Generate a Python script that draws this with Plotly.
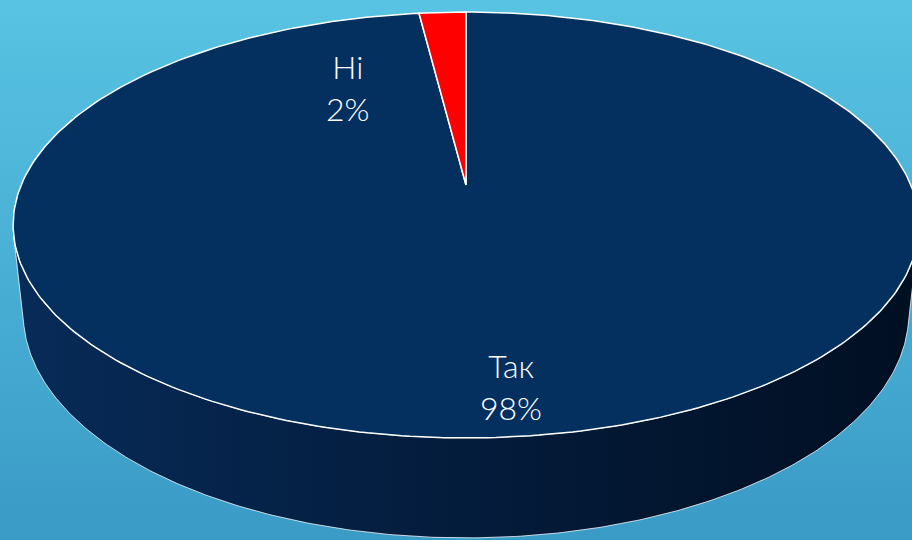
import numpy as np
import plotly.graph_objects as go

# ---- data ----
labels = ["Так", "Ні"]
values = [98, 2]
slice_colors = ["#03305f", "#ff0000"]

# ---- 3D view parameters (style) ----
ELEV = np.radians(27.5)
C, S = np.cos(ELEV), np.sin(ELEV)
DIST = 5.325 * C
DEPTH = 0.2256
K = 2101.0           # pixels per unit
CX_PX, CY_PX = 466, 185
W, H = 912, 540


def proj(phi, z):
    """phi: clockwise angle from 12 o'clock (radians), z: height (0 top face)."""
    X = np.sin(phi)
    Y = -np.cos(phi)
    depth = DIST - Y * C - z * S
    return X / depth, (z * C - Y * S) / depth


def center(z=0.0):
    depth = DIST - z * S
    return 0.0, z * C / depth


fig = go.Figure()

# background gradient (covers the axis range)
xr = [-CX_PX / K, (W - CX_PX) / K]
yr = [-(H - CY_PX) / K, CY_PX / K]
fig.add_trace(go.Scatter(
    x=[xr[0], xr[1], xr[1], xr[0], xr[0]],
    y=[yr[0], yr[0], yr[1], yr[1], yr[0]],
    mode="lines", line=dict(width=0), fill="toself",
    fillgradient=dict(type="vertical",
                      colorscale=[[0, "#3a9bc6"], [1, "#58c3e3"]]),
    hoverinfo="skip", showlegend=False,
))

# side wall (front, visible part)
phi_a = np.arccos(-1.0 / (DIST * C))
ph = np.linspace(phi_a, 2 * np.pi - phi_a, 300)
tx, ty = proj(ph, 0.0)
bx, by = proj(ph[::-1], -DEPTH)
sx = np.concatenate([tx, bx, tx[:1]])
sy = np.concatenate([ty, by, ty[:1]])
fig.add_trace(go.Scatter(
    x=sx, y=sy, mode="lines",
    line=dict(color="rgba(255,255,255,0.75)", width=1),
    fill="toself",
    fillgradient=dict(type="horizontal",
                      colorscale=[[0, "#072b58"], [0.45, "#041d3e"], [1, "#010f22"]]),
    hoverinfo="skip", showlegend=False,
))

# top face slices: first slice clockwise from 12 o'clock
total = float(sum(values))
start = 0.0
mids = []
for lab, v, col in zip(labels, values, slice_colors):
    span = 2 * np.pi * v / total
    ph = np.linspace(start, start + span, max(int(400 * v / total), 4))
    ax_, ay_ = proj(ph, 0.0)
    cx0, cy0 = center()
    px = np.concatenate([[cx0], ax_, [cx0]])
    py = np.concatenate([[cy0], ay_, [cy0]])
    fig.add_trace(go.Scatter(
        x=px, y=py, mode="lines",
        line=dict(color="white", width=1.5),
        fill="toself", fillcolor=col,
        hoverinfo="skip", showlegend=False,
    ))
    mids.append(start + span / 2)
    start += span

# labels
label_r = [0.8, 0.5]
shifts = [(19, -9), (-105, 4)]
for lab, v, m, r, (dx, dy) in zip(labels, values, mids, label_r, shifts):
    X = np.sin(m) * r
    Y = -np.cos(m) * r
    depth = DIST - Y * C
    fig.add_annotation(
        x=X / depth, y=(-Y * S) / depth,
        text=f"{lab}<br>{round(v / total * 100)}%",
        showarrow=False, xshift=dx, yshift=dy,
        font=dict(family="Lato", size=32, color="white", weight=300),
        align="center",
    )

fig.update_layout(
    width=W, height=H,
    margin=dict(l=0, r=0, t=0, b=0),
    paper_bgcolor="#4aaed4", plot_bgcolor="#4aaed4",
    xaxis=dict(range=xr, visible=False, fixedrange=True),
    yaxis=dict(range=yr, visible=False, fixedrange=True),
    showlegend=False,
)

fig.write_html(
    "out.html",
    config={"displayModeBar": False},
    post_script="document.body.style.margin='0';document.body.style.overflow='hidden';",
)
